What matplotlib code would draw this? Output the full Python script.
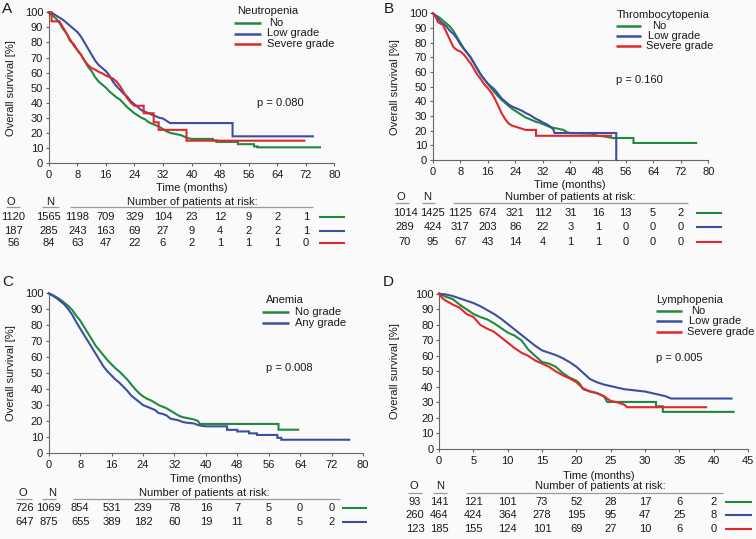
import matplotlib
matplotlib.use('Agg')
import matplotlib.pyplot as plt
from matplotlib.lines import Line2D
from matplotlib.transforms import blended_transform_factory

# ---------------- data (curve vertices: time [months], survival [%]) ----------------
# Panel A: Neutropenia
A_no_t = [0, 1, 2, 3, 4, 5, 6, 7, 8, 9, 10, 11, 12, 13, 14, 15, 16, 17, 18, 19, 20, 21, 22, 23, 24, 25, 26, 27, 28, 29, 30, 31, 32, 33, 34, 35, 36, 37, 38, 39, 40, 46, 46, 47, 47, 53, 53, 57.5, 57.5, 58.5, 58.5, 76]
A_no_s = [100, 98, 96, 93, 89, 86, 82, 78, 75, 72, 68, 64, 61, 57, 54, 52, 50, 47.5, 45.5, 43.5, 42, 39.5, 37, 35, 33, 31.5, 30, 29, 27, 26, 25, 24, 22.5, 21, 20, 19.5, 19, 18.5, 17.5, 16.5, 16, 16, 15, 15, 14, 14, 12.5, 12.5, 11, 11, 10.4, 10.4]
A_low_t = [0, 1, 2, 3, 4, 5, 6, 7, 8, 9, 10, 11, 12, 13, 14, 15, 16, 17, 18, 19, 20, 21, 22, 23, 24, 25, 26, 27, 28, 29, 30, 31, 32, 33, 34, 51.5, 51.5, 74]
A_low_s = [100, 99.5, 98, 96.5, 95, 93, 91, 89, 87, 84, 80, 76, 72, 68, 65, 63, 61, 58, 54, 51, 48.5, 46, 44, 41, 39, 37, 35, 34, 33, 32, 31, 30, 29.5, 28, 26.5, 26.5, 17.7, 17.7]
A_sev_t = [0, 0.8, 0.8, 3, 4, 5, 6, 7, 8, 9, 10, 11, 12, 13, 14, 15, 16, 17, 18, 19, 20, 21, 22, 23, 24, 26.6, 26.6, 29.4, 29.4, 30.8, 30.8, 38.6, 38.6, 71.6]
A_sev_s = [100, 100, 94, 94, 90, 86, 81, 79, 75, 72, 68, 65, 63, 62, 60.5, 59.5, 58, 57, 56, 54, 51, 47, 43, 40, 38, 38, 33, 33, 27, 27, 22, 22, 14.8, 14.8]

# Panel B: Thrombocytopenia
B_no_t = [0, 1, 2, 3, 4, 5, 6, 7, 8, 9, 10, 11, 12, 13, 14, 15, 16, 17, 18, 19, 20, 21, 22, 23, 24, 25, 26, 27, 28, 29, 30, 31, 32, 33, 34, 35, 36, 37, 38, 39, 40, 46, 47.6, 50, 52.2, 58.3, 58.3, 76.5]
B_no_s = [100, 98.5, 97, 95, 93, 91, 88, 84, 80, 76, 73, 70, 66, 62, 58, 55, 52, 49, 46, 43.5, 41, 39, 37, 35, 33.5, 32, 30.5, 29, 28, 27, 26, 25.5, 24.5, 23.5, 22.5, 22, 21.5, 21, 20.5, 19, 18.3, 18, 16.6, 16, 15, 15, 11.6, 11.6]
B_low_t = [0, 1, 2, 3, 4, 5, 6, 7, 8, 9, 10, 11, 12, 13, 14, 15, 16, 17, 18, 19, 20, 21, 22, 23, 24, 25, 26, 27, 28, 29, 30, 31, 32, 33, 34, 35, 35.4, 53.3, 53.3]
B_low_s = [100, 98, 95, 93, 91, 88, 86, 83, 79, 76, 73, 70, 66, 62, 58, 55, 52, 50, 48, 45, 42, 40, 38, 36.5, 35.5, 34.5, 33.5, 32, 31, 29.5, 28, 27, 25.5, 24.5, 23, 21, 18.4, 18.4, 0]
B_sev_t = [0, 1, 1.5, 3, 4, 5, 6, 7, 8, 9, 10, 11, 12, 13, 14, 15, 16, 17, 18, 19, 20, 21, 22, 23, 25, 27, 30, 30, 51.8]
B_sev_s = [100, 97, 94, 92, 87, 82, 77, 75, 74, 72, 69, 66, 62, 58, 55, 51.5, 49, 46, 42, 37, 32, 28, 25, 23.5, 22, 20.5, 20.5, 16.5, 16.5]

# Panel C: Anemia
C_no_t = [0, 1, 2, 3, 4, 5, 6, 7, 8, 9, 10, 11, 12, 13, 14, 15, 16, 17, 18, 19, 20, 21, 22, 23, 24, 25, 26, 27, 28, 29, 30, 31, 32, 33, 34, 35, 36, 37, 38, 38.5, 58.5, 58.5, 63.5]
C_no_s = [100, 99, 97.5, 96, 94, 92, 89.5, 86, 83, 79, 75, 71, 67, 64, 61, 58, 55.5, 53, 51, 48.5, 46, 43, 40, 37.5, 35.5, 34, 33, 31.5, 30, 29, 28, 26.5, 25, 23.5, 22.5, 22, 21.5, 21, 20, 18.2, 18.2, 14.6, 14.6]
C_any_t = [0, 1, 2, 3, 4, 5, 6, 7, 8, 9, 10, 11, 12, 13, 14, 15, 16, 17, 18, 19, 20, 21, 22, 23, 24, 25, 26, 27, 28, 29, 30, 31, 32, 33, 34, 35, 37, 38, 39, 40, 45.4, 45.4, 48, 48, 51, 51, 53, 53, 58.2, 58.2, 59.2, 59.2, 76.5]
C_any_s = [100, 98.5, 97, 95, 93, 90, 86.5, 82, 78, 74, 70, 66, 62, 58, 54, 51, 48.5, 46, 44, 41.5, 39, 36, 34, 32, 30, 29, 28, 27, 25, 24.5, 23.5, 21.5, 21, 20.5, 19.5, 19, 18.5, 17.5, 17, 16.7, 16.7, 14.5, 14.5, 13.5, 13.5, 12.3, 12.3, 11.3, 11.3, 9.5, 9.5, 8.3, 8.3]

# Panel D: Lymphopenia
D_no_t = [0, 0.5, 1, 2, 3, 4, 5, 6, 7, 8, 9, 10, 11, 12, 12.5, 13, 14, 15, 16, 17, 18, 19, 20, 20.5, 21, 22, 23, 24, 24.5, 31.6, 31.6, 32.6, 32.6, 42.9]
D_no_s = [100, 99, 98, 96.5, 93, 90, 87, 85, 83.5, 81, 78, 75, 73, 70, 67, 64, 60, 56, 55, 53, 49, 46, 44, 42, 38.5, 37, 36, 34, 30.3, 30.3, 27.5, 27.5, 23.9, 23.9]
D_low_t = [0, 1, 2, 3, 4, 5, 6, 7, 8, 9, 10, 11, 12, 13, 14, 15, 16, 17, 18, 19, 20, 21, 22, 23, 24, 25, 26, 27, 28, 29, 30, 31, 32, 33, 33.8, 42.6]
D_low_s = [100, 99.5, 98.5, 97, 95.5, 94, 92, 89.5, 87, 84, 80.5, 77, 73.5, 70, 66.5, 63.5, 62, 60.5, 58.5, 56, 53, 49, 45, 43, 41.5, 40.5, 39.5, 38.5, 38, 37.5, 37, 36, 35, 34, 32.5, 32.5]
D_sev_t = [0, 0.5, 1, 2, 3, 4, 5, 6, 7, 8, 9, 10, 11, 12, 13, 14, 15, 16, 17, 18, 19, 20, 21, 22, 23, 24, 25, 26, 27, 27.4, 38.9]
D_sev_s = [100, 97, 95.5, 93, 91, 87, 85, 80, 77.5, 75.5, 72, 68.5, 65, 62, 60, 57, 55, 53, 50, 47.5, 45.5, 43, 39, 37, 36, 34, 31, 30, 28.5, 26.9, 26.9]

# Risk tables
A_risk_times = [8, 16, 24, 32, 40, 48, 56, 64, 72]
A_O = [1120, 187, 56]
A_N = [1565, 285, 84]
A_risk = [[1198, 709, 329, 104, 23, 12, 9, 2, 1],
          [243, 163, 69, 27, 9, 4, 2, 2, 1],
          [63, 47, 22, 6, 2, 1, 1, 1, 0]]
B_risk_times = [8, 16, 24, 32, 40, 48, 56, 64, 72]
B_O = [1014, 289, 70]
B_N = [1425, 424, 95]
B_risk = [[1125, 674, 321, 112, 31, 16, 13, 5, 2],
          [317, 203, 86, 22, 3, 1, 0, 0, 0],
          [67, 43, 14, 4, 1, 1, 0, 0, 0]]
C_risk_times = [8, 16, 24, 32, 40, 48, 56, 64, 72]
C_O = [726, 647]
C_N = [1069, 875]
C_risk = [[854, 531, 239, 78, 16, 7, 5, 0, 0],
          [655, 389, 182, 60, 19, 11, 8, 5, 2]]
D_risk_times = [5, 10, 15, 20, 25, 30, 35, 40]
D_O = [93, 260, 123]
D_N = [141, 464, 185]
D_risk = [[121, 101, 73, 52, 28, 17, 6, 2],
          [424, 364, 278, 195, 95, 47, 25, 8],
          [155, 124, 101, 69, 27, 10, 6, 0]]

A_labels = ['No', 'Low grade', 'Severe grade']
B_labels = ['No', 'Low grade', 'Severe grade']
C_labels = ['No grade', 'Any grade']
D_labels = ['No', 'Low grade', 'Severe grade']

# ---------------- style ----------------
W, H = 756, 539
plt.rcParams['font.family'] = ['Liberation Sans', 'DejaVu Sans']
plt.rcParams['font.size'] = 8
GREEN = '#1f8a3e'
BLUE = '#3b4ea0'
RED = '#e3262b'
BG = '#fafafa'
TXT = '#1a1a1a'
SPINE = '#666666'

fig = plt.figure(figsize=(W / 100, H / 100), dpi=100, facecolor=BG)


def fx(x):
    return x / W


def fy(y):
    return 1 - y / H


def ftext(x, y, s, ha='left', va='center', **kw):
    kw.setdefault('color', TXT)
    kw.setdefault('fontsize', 8)
    fig.text(fx(x), fy(y), s, ha=ha, va=va, **kw)


def fline(x0, x1, y, color, lw=1.5):
    fig.add_artist(Line2D([fx(x0), fx(x1)], [fy(y), fy(y)], color=color, lw=lw,
                          transform=fig.transFigure, solid_capstyle='butt'))


def make_ax(l, t, r, b, xmax, xstep):
    ax = fig.add_axes([fx(l), fy(b), (r - l) / W, (b - t) / H])
    ax.set_facecolor('none')
    ax.set_xlim(0, xmax)
    ax.set_ylim(0, 100)
    ax.set_xticks(list(range(0, xmax + 1, xstep)))
    ax.set_yticks(list(range(0, 101, 10)))
    for s in ['top', 'right']:
        ax.spines[s].set_visible(False)
    for s in ['left', 'bottom']:
        ax.spines[s].set_color(SPINE)
        ax.spines[s].set_linewidth(0.8)
    ax.tick_params(axis='both', length=2.5, width=0.8, color=SPINE, labelsize=8, labelcolor=TXT)
    ax.tick_params(axis='x', pad=2.5)
    ax.tick_params(axis='y', pad=1.5)
    return ax


def curves(ax, series, colors):
    for (t, s), c in zip(series, colors):
        ax.plot(t, s, color=c, lw=1.5, clip_on=False, zorder=3, solid_joinstyle='miter')


def legend(title, tx, ty, lx0, lx1, labx, rows, labels, colors):
    ftext(tx, ty, title)
    for y, lab, c, lxx in zip(rows, labels, colors, labx):
        fline(lx0, lx1, y, c, lw=1.8)
        ftext(lxx, y, lab)


def table(ax, times, O, N, risk, colors, ox, rows, hdr_y, ul_y, ox_hdr, nx_hdr,
          o_ul, n_ul, h_ul, hdr_x, seg):
    tr = blended_transform_factory(ax.transData, fig.transFigure)
    ftext(ox_hdr, hdr_y, 'O', ha='center')
    ftext(nx_hdr, hdr_y, 'N', ha='center')
    ftext(hdr_x, hdr_y, 'Number of patients at risk:', ha='center')
    for (a, b) in (o_ul, n_ul, h_ul):
        fline(a, b, ul_y, '#9a9a9a', lw=0.9)
    for i, y in enumerate(rows):
        ftext(ox, y, str(O[i]), ha='center')
        ax.text(0, fy(y), str(N[i]), transform=tr, ha='center', va='center',
                fontsize=8, color=TXT, clip_on=False)
        for t, v in zip(times, risk[i]):
            ax.text(t, fy(y), str(v), transform=tr, ha='center', va='center',
                    fontsize=8, color=TXT, clip_on=False)
        fline(seg[0], seg[1], y, colors[i], lw=1.5)


# ---------------- Panel A ----------------
colors3 = [GREEN, BLUE, RED]
axA = make_ax(48.7, 12.3, 334.3, 163, 80, 8)
curves(axA, [(A_no_t, A_no_s), (A_low_t, A_low_s), (A_sev_t, A_sev_s)], colors3)
ftext(2, 9, 'A', fontsize=11)
ftext(11.5, 87.7, 'Overall survival [%]', ha='center', rotation=90)
ftext(192, 188.3, 'Time (months)', ha='center')
legend('Neutropenia', 236.7, 11.3, 234, 261, [269, 267.3, 267.3],
       [23, 33.5, 44], A_labels, colors3)
ftext(257.3, 103, 'p = 0.080')
table(axA, A_risk_times, A_O, A_N, A_risk, colors3, 13.5, [216.7, 230.7, 242.7],
      201.7, 206.7, 11, 50, (6, 20), (41.7, 59.3), (70, 313), 192, (319, 345))

# ---------------- Panel B ----------------
axB = make_ax(432.7, 13.3, 708.2, 160, 80, 8)
curves(axB, [(B_no_t, B_no_s), (B_low_t, B_low_s), (B_sev_t, B_sev_s)], colors3)
ftext(384, 9, 'B', fontsize=11)
ftext(395, 86.7, 'Overall survival [%]', ha='center', rotation=90)
ftext(570.3, 185, 'Time (months)', ha='center')
legend('Thrombocytopenia', 616.3, 15.3, 616.3, 641.3, [652, 648, 646.3],
       [26.3, 36.3, 46.3], B_labels, colors3)
ftext(616.3, 79.7, 'p = 0.160')
table(axB, B_risk_times, B_O, B_N, B_risk, colors3, 405, [212.7, 226.7, 241.7],
      197.3, 203.3, 400.7, 427.3, (395, 409), (421.7, 435), (452.7, 688.3), 570.5, (696, 722))

# ---------------- Panel C ----------------
colors2 = [GREEN, BLUE]
axC = make_ax(48.7, 293.3, 363, 453, 80, 8)
curves(axC, [(C_no_t, C_no_s), (C_any_t, C_any_s)], colors2)
ftext(2, 282, 'C', fontsize=11)
ftext(11.5, 373, 'Overall survival [%]', ha='center', rotation=90)
ftext(206, 479, 'Time (months)', ha='center')
legend('Anemia', 265.7, 299.7, 262.3, 289, [294.7, 294.7],
       [312, 323], C_labels, colors2)
ftext(265.7, 368, 'p = 0.008')
table(axC, C_risk_times, C_O, C_N, C_risk, colors2, 24.5, [508.3, 522.3],
      493.3, 499.3, 23.3, 51.7, (16, 31.7), (41.7, 56), (72.7, 340), 204, (341.7, 366.7))

# ---------------- Panel D ----------------
axD = make_ax(439, 293.7, 748, 449, 45, 5)
curves(axD, [(D_no_t, D_no_s), (D_low_t, D_low_s), (D_sev_t, D_sev_s)], colors3)
ftext(383, 282, 'D', fontsize=11)
ftext(395, 371.5, 'Overall survival [%]', ha='center', rotation=90)
ftext(599, 475.7, 'Time (months)', ha='center')
legend('Lymphopenia', 655.7, 299.7, 655.7, 682.3, [690.7, 689, 687.3],
       [311.3, 321.3, 332], D_labels, colors3)
ftext(655.7, 358, 'p = 0.005')
table(axD, D_risk_times, D_O, D_N, D_risk, colors3, 415, [502.3, 515.3, 529],
      486, 493.3, 414.3, 440, (407.7, 421.7), (433.3, 446.7), (466, 723.3), 600, (725, 751.7))

fig.savefig('out.png', dpi=100, facecolor=BG)
